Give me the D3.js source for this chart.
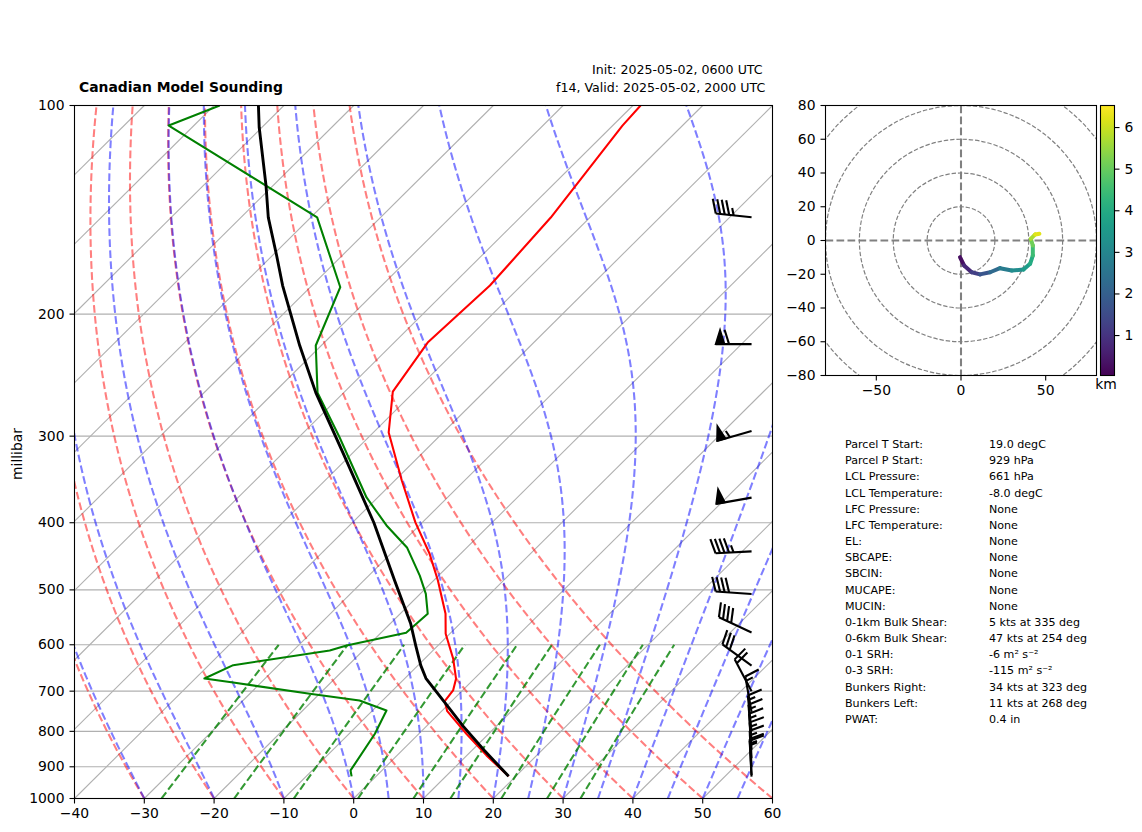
<!DOCTYPE html>
<html><head><meta charset="utf-8">
<script src="https://cdnjs.cloudflare.com/ajax/libs/d3/7.8.5/d3.min.js"></script>
<style>html,body{margin:0;padding:0;background:#fff}svg{display:block}text{font-family:"DejaVu Sans",sans-serif;fill:#000}</style>
</head><body><svg id="c" width="1142" height="832"></svg>
<script>
// ---- data ----
const tempP = [100,106.9,145.1,181.9,219.8,258.8,296.4,347.6,399.6,443,484.6,541.3,578.4,628.7,672,698.4,723.7,748.2,806.5,866.6,929];
const tempT = [-58.9,-58.6,-55.6,-54.5,-55.2,-53.1,-47.8,-39.0,-31.0,-24.5,-19.4,-13.5,-10.6,-5.9,-2.6,-1.35,-1.0,0.8,6.8,12.8,19.0];
const dewP = [100,106.9,145,182.9,222,259.6,301.4,367.8,403.6,434.2,476.8,506.6,541.3,576.6,601.4,611.4,642.1,671.2,680.2,706.2,722.3,746.5,806.5,911,929];
const dewT = [-119.2,-123.6,-89.1,-75.7,-70.8,-63.75,-54.1,-41.6,-34.7,-28.6,-22.7,-19.2,-16.05,-16.4,-23.1,-24.8,-36.5,-38.7,-34.0,-21.4,-13.3,-8.0,-6.3,-4.5,-3.5];
const parcelP = [100,107.5,130.5,145,164.6,181.9,205.5,222,259.6,316.7,400,484.6,523.6,559,601.4,642.6,670.7,726,787,852.6,929];
const parcelT = [-113.65,-110.4,-101.0,-96.1,-89.4,-84.2,-77.4,-73.1,-64.0,-51.5,-36.9,-25.6,-21.0,-17.1,-13.2,-9.6,-7.0,-0.9,5.3,11.8,19.0];
const barbP = [145,221,295,368,440,507,576,643,700,750,800,825,850,875,900,925,930];
const barbSpeed = [45,60,55,50,45,40,40,30,20,15,15,15,15,15,15,15,15];
const barbDir = [276,270,254,260,267,274,295,306,332,350,354,355,356,357,357,357,357];
const hodoU = [-0.6,1.8,6.3,11.2,17.2,23,30,36.9,40.8,42.4,42.4,41.2,43.8,46.3];
const hodoV = [-9.9,-14.8,-18.8,-20.1,-18.8,-16.4,-17.8,-17.2,-13.8,-8.9,-3,1,3.6,4];
const hodoH = [0.04,0.5,1,1.5,2,2.5,3,3.4,3.8,4.2,4.8,5.4,6,6.5];
const pressureTicks = [100,200,300,400,500,600,700,800,900,1000];
const tempTicks = [-40,-30,-20,-10,0,10,20,30,40,50,60];
const isotherms = d3.range(-140,61,10);
const dryT0 = d3.range(-40,61,10);
const moistT0 = [-40,-30,-20,-10,0,5,10,15,20,25,30,35,40,45,50,55,60];
const mixingW = [0.0004,0.001,0.002,0.004,0.007,0.01,0.016,0.024,0.032];
const hodoRings = [20,40,60,80,100];
const hodoXTicks = [-50,0,50];
const hodoYTicks = [-80,-60,-40,-20,0,20,40,60,80];
const cbarTicks = [1,2,3,4,5,6];
const statLabels = ["Parcel T Start:","Parcel P Start:","LCL Pressure:","LCL Temperature:","LFC Pressure:","LFC Temperature:","EL:","SBCAPE:","SBCIN:","MUCAPE:","MUCIN:","0-1km Bulk Shear:","0-6km Bulk Shear:","0-1 SRH:","0-3 SRH:","Bunkers Right:","Bunkers Left:","PWAT:"];
const statValues = ["19.0 degC","929 hPa","661 hPa","-8.0 degC","None","None","None","None","None","None","None","5 kts at 335 deg","47 kts at 254 deg","-6 m² s⁻²","-115 m² s⁻²","34 kts at 323 deg","11 kts at 268 deg","0.4 in"];
const titleText = "Canadian Model Sounding";
const initText = "Init: 2025-05-02, 0600 UTC";
const validText = "f14, Valid: 2025-05-02, 2000 UTC";

// ---- layout ----
const svg = d3.select("#c");
const L=74.5,R=772.5,T=105.5,B=798.5;
const x = d3.scaleLinear().domain([-40,60]).range([L,R]);
const y = d3.scaleLog().domain([1000,100]).range([B,T]);
const sx = (t,p)=>x(t+100*Math.log10(1000/p));
const defs = svg.append("defs");
defs.append("clipPath").attr("id","skew").append("rect").attr("x",L).attr("y",T).attr("width",R-L).attr("height",B-T);
const HL=825.5,HR=1096.5,HT=105.5,HB=375.5;
defs.append("clipPath").attr("id","hodo").append("rect").attr("x",HL).attr("y",HT).attr("width",HR-HL).attr("height",HB-HT);

const plot = svg.append("g").attr("clip-path","url(#skew)");
const logP = (a,b,n)=>d3.range(n+1).map(i=>a*Math.pow(b/a,i/n));
const path = d3.line().x(d=>sx(d[0],d[1])).y(d=>y(d[1]));

// grid
plot.selectAll(".hg").data(pressureTicks).join("line").attr("x1",L).attr("x2",R).attr("y1",d=>y(d)).attr("y2",d=>y(d)).attr("stroke","#b0b0b0").attr("stroke-width",1.1);
plot.selectAll(".iso").data(isotherms).join("path").attr("fill","none").attr("stroke","#b0b0b0").attr("stroke-width",1.1)
  .attr("d",t=>path([[t,1000],[t,100]]));

// thermodynamic reference lines
const P0=1000,KAP=0.2857;
const dryCurve=t0=>logP(1000,100,60).map(p=>[(t0+273.15)*Math.pow(p/P0,KAP)-273.15,p]);
plot.selectAll(".dry").data(dryT0).join("path").attr("fill","none").attr("stroke","#ff0000").attr("stroke-opacity",.5).attr("stroke-width",2.08).attr("stroke-dasharray","7.7,3.3")
  .attr("d",t=>path(dryCurve(t)));
function moistSlope(Tk,p){const es=6.112*Math.exp(17.67*(Tk-273.15)/(Tk-29.65));const rs=0.622*es/Math.max(p-es,1e-3);const Lv=2.501e6,Rd=287.05,Cp=1005;
  return (Rd*Tk+Lv*rs)/(Cp+Lv*Lv*rs*0.622/(Rd*Tk*Tk));}
function moistCurve(t0){const n=90;let Tk=t0+273.15;const out=[[t0,1000]];const ps=logP(1000,100,n);
  for(let i=1;i<=n;i++){const a=ps[i-1],b=ps[i];const h=Math.log(b/a);
    const k1=moistSlope(Tk,a),am=Math.sqrt(a*b);const k2=moistSlope(Tk+h*k1/2,am),k3=moistSlope(Tk+h*k2/2,am),k4=moistSlope(Tk+h*k3,b);
    Tk+=h*(k1+2*k2+2*k3+k4)/6;out.push([Tk-273.15,b]);}
  return out;}
plot.selectAll(".moist").data(moistT0).join("path").attr("fill","none").attr("stroke","#0000ff").attr("stroke-opacity",.5).attr("stroke-width",2.08).attr("stroke-dasharray","7.7,3.3")
  .attr("d",t=>path(moistCurve(t)));
const mixCurve=w=>logP(1000,600,12).map(p=>{const e=p*w/(0.622+w),l=Math.log(e/6.112);return [243.5*l/(17.67-l),p];});
plot.selectAll(".mix").data(mixingW).join("path").attr("fill","none").attr("stroke","#008000").attr("stroke-opacity",.8).attr("stroke-width",2.08).attr("stroke-dasharray","7.7,3.3")
  .attr("d",w=>path(mixCurve(w)));

// sounding
const zip=(a,b)=>a.map((v,i)=>[v,b[i]]);
plot.append("path").attr("fill","none").attr("stroke","#ff0000").attr("stroke-width",2.08).attr("stroke-linejoin","round").attr("d",path(zip(tempT,tempP)));
plot.append("path").attr("fill","none").attr("stroke","#008000").attr("stroke-width",2.08).attr("stroke-linejoin","round").attr("d",path(zip(dewT,dewP)));
plot.append("path").attr("fill","none").attr("stroke","#000").attr("stroke-width",2.9).attr("stroke-linejoin","round").attr("d",path(zip(parcelT,parcelP)));

// wind barbs
const barbX=L+0.97*(R-L), BL=36, BH=BL*0.4, BW=BL*0.25, BS=BL*0.125, BSW=2.1;
const barbs=svg.append("g").attr("clip-path","url(#skew)");
barbP.forEach((p,i)=>{
  const a=barbDir[i]*Math.PI/180, ux=Math.sin(a), uy=-Math.cos(a), nx=-uy, ny=ux;
  const bx=barbX, by=y(p);
  const pt=(s,h)=>[bx+ux*s+nx*h, by+uy*s+ny*h];
  let v=Math.round(barbSpeed[i]/5)*5, flags=Math.floor(v/50); v-=flags*50; let full=Math.floor(v/10); v-=full*10; const half=v>=5;
  let s=BL; const segs=[pt(0,0),pt(BL,0)]; 
  barbs.append("path").attr("d",d3.line()(segs)).attr("stroke","#000").attr("stroke-width",BSW).attr("fill","none");
  for(let f=0;f<flags;f++){ if(s!==BL) s-=BS/2;
    barbs.append("path").attr("d",d3.line()([pt(s,0),pt(s-BW/2,BH),pt(s-BW,0)])+"Z").attr("fill","#000").attr("stroke","#000").attr("stroke-width",1.6);
    s-=BW+BS; }
  for(let f=0;f<full;f++){ barbs.append("path").attr("d",d3.line()([pt(s,0),pt(s+BW/2,BH)])).attr("stroke","#000").attr("stroke-width",BSW).attr("fill","none"); s-=BS; }
  if(half){ if(s===BL) s-=1.5*BS; barbs.append("path").attr("d",d3.line()([pt(s,0),pt(s+BW/4,BH/2)])).attr("stroke","#000").attr("stroke-width",BSW).attr("fill","none"); }
});

// axes
function styleAxis(g){g.select(".domain").remove();g.selectAll("line").attr("stroke","#000").attr("stroke-width",1.1);g.selectAll("text").style("font-size","13.9px").style("font-family","DejaVu Sans");}
svg.append("g").attr("transform",`translate(0,${B})`).call(d3.axisBottom(x).offset(0).tickValues(tempTicks).tickSize(5).tickPadding(5).tickFormat(d=>String(d).replace("-","−"))).call(styleAxis);
svg.append("g").attr("transform",`translate(${L},0)`).call(d3.axisLeft(y).offset(0).tickValues(pressureTicks).tickSize(5).tickPadding(5).tickFormat(d=>String(d))).call(styleAxis);
svg.append("rect").attr("x",L).attr("y",T).attr("width",R-L).attr("height",B-T).attr("fill","none").attr("stroke","#000").attr("stroke-width",1.1);
svg.append("text").attr("transform",`translate(21.5,${(T+B)/2+2}) rotate(-90)`).attr("text-anchor","middle").style("font-size","13.9px").text("millibar");
svg.append("text").attr("x",79).attr("y",92).style("font-size","13.9px").style("font-weight","bold").text(titleText);
svg.append("text").attr("x",592).attr("y",74).style("font-size","12.6px").text(initText);
svg.append("text").attr("x",556).attr("y",92).style("font-size","12.6px").text(validText);

// hodograph
const hx=d3.scaleLinear().domain([-80,80]).range([HL,HR]);
const hy=d3.scaleLinear().domain([-80,80]).range([HB,HT]);
const hg=svg.append("g").attr("clip-path","url(#hodo)");
hg.selectAll(".ring").data(hodoRings).join("ellipse").attr("cx",hx(0)).attr("cy",hy(0)).attr("rx",d=>hx(d)-hx(0)).attr("ry",d=>hy(0)-hy(d))
  .attr("fill","none").attr("stroke","#808080").attr("stroke-width",1.2).attr("stroke-dasharray","4.4,1.9");
hg.append("line").attr("x1",hx(0)).attr("x2",hx(0)).attr("y1",HT).attr("y2",HB).attr("stroke","#808080").attr("stroke-width",2.08).attr("stroke-dasharray","7.7,3.3");
hg.append("line").attr("x1",HL).attr("x2",HR).attr("y1",hy(0)).attr("y2",hy(0)).attr("stroke","#808080").attr("stroke-width",2.08).attr("stroke-dasharray","7.7,3.3");
const cz=d3.scaleLinear().domain([0.04,6.53]).range([0,1]);
const viridis=h=>d3.interpolateViridis(cz(h));
for(let i=0;i<hodoU.length-1;i++){
  hg.append("line").attr("x1",hx(hodoU[i])).attr("y1",hy(hodoV[i])).attr("x2",hx(hodoU[i+1])).attr("y2",hy(hodoV[i+1]))
    .attr("stroke",viridis((hodoH[i]+hodoH[i+1])/2)).attr("stroke-width",4).attr("stroke-linecap","round");
}
svg.append("g").attr("transform",`translate(0,${HB})`).call(d3.axisBottom(hx).offset(0).tickValues(hodoXTicks).tickSize(5).tickPadding(5).tickFormat(d=>String(d).replace("-","−"))).call(styleAxis);
svg.append("g").attr("transform",`translate(${HL},0)`).call(d3.axisLeft(hy).offset(0).tickValues(hodoYTicks).tickSize(5).tickPadding(5).tickFormat(d=>String(d).replace("-","−"))).call(styleAxis);
svg.append("rect").attr("x",HL).attr("y",HT).attr("width",HR-HL).attr("height",HB-HT).attr("fill","none").attr("stroke","#000").attr("stroke-width",1.1);

// colour bar
const CL=1100.5,CR=1114.5;
const cy=d3.scaleLinear().domain([0.04,6.53]).range([HB,HT]);
const grad=defs.append("linearGradient").attr("id","vir").attr("x1",0).attr("x2",0).attr("y1",1).attr("y2",0);
d3.range(0,1.001,0.05).forEach(t=>grad.append("stop").attr("offset",t).attr("stop-color",d3.interpolateViridis(t)));
svg.append("rect").attr("x",CL).attr("y",HT).attr("width",CR-CL).attr("height",HB-HT).attr("fill","url(#vir)").attr("stroke","#000").attr("stroke-width",1.1);
svg.append("g").attr("transform",`translate(${CR},0)`).call(d3.axisRight(cy).offset(0).tickValues(cbarTicks).tickSize(5).tickPadding(5).tickFormat(d=>d)).call(styleAxis);
svg.append("text").attr("x",1106).attr("y",389).attr("text-anchor","middle").style("font-size","13.9px").text("km");

// stats table
const rowY=d3.scaleLinear().domain([0,statLabels.length-1]).range([448,723]);
svg.selectAll(".sl").data(statLabels).join("text").attr("x",845).attr("y",(d,i)=>rowY(i)).style("font-size","11.1px").text(d=>d);
svg.selectAll(".sv").data(statValues).join("text").attr("x",989).attr("y",(d,i)=>rowY(i)).style("font-size","11.1px").text(d=>d);
</script></body></html>
